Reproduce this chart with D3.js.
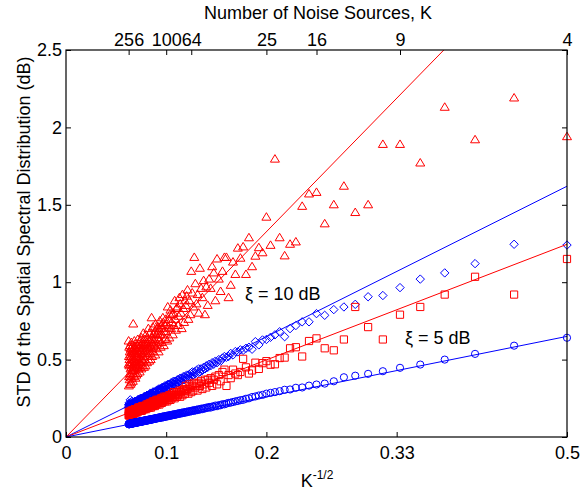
<!doctype html>
<html lang="en">
<head>
<meta charset="utf-8">
<title>STD of the Spatial Spectral Distribution vs K</title>
<script src="https://cdn.jsdelivr.net/npm/d3@7"></script>
<style>
  body { margin: 0; background: #fff; }
  text { font-family: Arial, "Liberation Sans", Helvetica, sans-serif; fill: #000; }
</style>
</head>
<body>
<script>
// number of noise sources, one point per K
const kValues = d3.range(4, 257);

// top axis labels (K) and bottom axis ticks (K^-1/2)
const topTickK = [256, 100, 64, 25, 16, 9, 4];
const bottomTicks = [0, 0.1, 0.2, 0.33, 0.5];
const yTicks = [0, 0.5, 1, 1.5, 2, 2.5];

// blue circles (xi = 5 dB)
const circles = [
  .641,.590,.537,.500,.468,.447,.425,.408,.396,.386,
  .360,.345,.339,.332,.320,.318,.307,.305,.296,.290,
  .285,.280,.272,.268,.262,.258,.250,.247,.240,.238,
  .233,.230,.226,.222,.220,.216,.211,
  .212,.205,.206,.199,.203,.196,.197,.190,.194,.188,
  .190,.184,.186,.180,.183,.177,.180,.174,.176,.171,
  .174,.168,.171,.166,.168,.163,.166,.161,.163,.158,
  .161,.156,.159,.154,.157,.152,.155,.150,.153,.148,
  .151,.146,.149,.144,.147,.142,.146,.141,.144,.139,
  .142,.138,.141,.136,.139,.135,.138,.133,.137,.132,
  .135,.131,.133,.130,.134,.128,.130,.131,.125,.129,
  .129,.125,.127,.124,.126,.123,.126,.122,.124,.121,
  .123,.120,.122,.119,.121,.118,.120,.117,.119,.116,
  .118,.115,.117,.114,.117,.113,.115,.112,.115,.112,
  .114,.111,.113,.110,.112,.109,.112,.108,.111,.108,
  .110,.107,.109,.106,.109,.106,.108,.105,.107,.105,
  .107,.104,.106,.103,.106,.102,.105,.102,.104,.101,
  .104,.101,.103,.100,.103,.099,.102,.099,.101,.099,
  .101,.098,.100,.097,.100,.097,.099,.096,.099,.096,
  .098,.095,.098,.095,.097,.094,.097,.094,.096,.094,
  .096,.093,.095,.092,.095,.092,.094,.091,.094,.091,
  .093,.091,.093,.090,.093,.090,.092,.089,.092,.089,
  .091,.089,.091,.088,.091,.088,.090,.087,.090,.087,
  .089,.087,.089,.086,.089,.086,.088,.085,.088,.085,
  .087,.085,.087,.084,.087,.084,.086,.083,.086,.083,
  .085,.083,.085,.082,.085,.083
];

// red squares
const squares = [
  1.15,.92,1.035,.92,.84,.79,.63,.71,.84,.63,
  .56,.573,.637,.62,.52,.58,.573,.513,.51,.47,
  .467,.49,.477,.44,.48,.43,.41,.45,.505,.42,
  .40,.41,.435,.38,.40,.33,.435,
  .42,.36,.40,.34,.39,.37,.33,.38,.35,.37,
  .32,.37,.34,.31,.36,.33,.35,.30,.34,.32,
  .35,.30,.33,.29,.32,.34,.28,.31,.30,.33,
  .28,.31,.30,.27,.30,.29,.26,.30,.28,.27,
  .29,.26,.28,.27,.25,.29,.26,.27,.28,.25,
  .27,.24,.26,.27,.24,.26,.25,.23,.26,.25,
  .26,.23,.25,.24,.26,.23,.24,.25,.22,.24,
  .25,.22,.24,.23,.21,.24,.23,.22,.24,.21,
  .23,.22,.24,.21,.22,.23,.20,.22,.23,.21,
  .22,.20,.23,.21,.22,.20,.22,.21,.19,.22,
  .21,.20,.22,.19,.21,.20,.21,.19,.21,.20,
  .21,.19,.20,.19,.21,.18,.20,.19,.20,.19,
  .20,.18,.20,.19,.18,.20,.19,.18,.20,.18,
  .19,.18,.20,.17,.19,.18,.19,.17,.19,.18,
  .19,.17,.19,.18,.17,.19,.18,.17,.19,.17,
  .18,.17,.19,.17,.18,.16,.18,.17,.18,.17,
  .18,.16,.18,.17,.18,.16,.17,.16,.18,.16,
  .17,.16,.18,.16,.17,.16,.17,.15,.17,.16,
  .17,.16,.17,.15,.17,.15,.17,.16,.16,.15,
  .17,.15,.16,.15,.17,.15,.16,.15,.16,.14,
  .16,.15,.16,.14,.16,.15,.16,.14,.16,.15,
  .16,.14,.16,.15,.17,.14
];

// blue diamonds (xi = 10 dB)
const diamonds = [
  1.24,1.245,1.12,1.06,1.02,.965,.914,.906,.857,.84,
  .823,.786,.797,.744,.744,.72,.70,.648,.68,.66,
  .644,.63,.627,.595,.616,.567,.58,.573,.56,.563,
  .55,.552,.53,.54,.52,.515,.52,
  .51,.49,.50,.48,.49,.47,.48,.46,.47,.45,
  .46,.44,.45,.43,.44,.42,.44,.41,.43,.41,
  .42,.40,.42,.39,.41,.39,.40,.38,.40,.38,
  .39,.37,.39,.37,.38,.36,.38,.36,.37,.35,
  .37,.35,.36,.34,.36,.34,.36,.34,.35,.33,
  .35,.33,.34,.32,.34,.32,.34,.32,.33,.31,
  .33,.31,.33,.30,.32,.31,.32,.30,.32,.30,
  .31,.30,.31,.29,.31,.29,.31,.29,.30,.28,
  .30,.28,.30,.28,.29,.27,.29,.28,.29,.27,
  .29,.27,.29,.27,.28,.27,.28,.26,.28,.26,
  .28,.26,.28,.26,.27,.26,.27,.25,.27,.25,
  .27,.25,.27,.25,.26,.25,.26,.24,.26,.25,
  .26,.24,.26,.24,.26,.24,.25,.24,.25,.24,
  .25,.24,.25,.23,.25,.23,.25,.23,.24,.23,
  .25,.23,.24,.23,.24,.23,.24,.22,.24,.22,
  .24,.22,.24,.22,.24,.22,.23,.22,.23,.22,
  .23,.22,.23,.21,.23,.21,.23,.21,.22,.21,
  .23,.21,.23,.21,.22,.21,.22,.21,.22,.20,
  .22,.21,.22,.20,.22,.20,.22,.20,.21,.20,
  .23,.20,.22,.20,.21,.20,.21,.20,.21,.19,
  .21,.20,.24,.19,.21,.19,.21,.19,.20,.19,
  .21,.22,.21,.19,.20,.19
];

// red triangles
const triangles = [
  1.94,2.19,1.92,2.13,1.77,1.89,1.89,1.50,1.45,1.62,
  1.50,1.377,1.58,1.57,1.49,1.26,1.245,1.17,1.287,1.795,
  1.238,1.42,1.19,1.223,1.168,1.10,1.287,1.05,1.228,1.155,
  1.22,1.05,1.13,.98,.90,1.16,1.16,
  1.07,.94,1.02,1.15,.88,1.06,1.10,.96,1.02,.85,
  .97,.79,1.01,.90,.96,1.09,.80,.92,.86,.99,
  1.16,.84,.93,1.07,.79,.88,.76,.95,.91,.85,
  .88,.74,.83,.92,.70,.80,.86,.90,.78,.72,
  .84,.83,.69,.76,.88,.72,.80,.66,.79,.74,
  .70,.82,.79,.64,.76,.71,.84,.62,.73,.68,
  .76,.63,.72,.68,.59,.74,.77,.66,.70,.61,
  .72,.58,.66,.75,.62,.69,.55,.71,.64,.67,
  .60,.70,.57,.66,.73,.53,.63,.68,.59,.62,
  .66,.55,.71,.60,.52,.64,.77,.58,.61,.50,
  .63,.54,.67,.57,.49,.62,.58,.70,.52,.60,
  .55,.64,.48,.59,.61,.52,.66,.56,.46,.60,
  .58,.50,.63,.54,.45,.60,.52,.67,.49,.57,
  .53,.61,.46,.57,.50,.64,.44,.55,.59,.48,
  .56,.47,.62,.51,.42,.58,.54,.45,.60,.50,
  .55,.44,.57,.49,.63,.41,.53,.59,.46,.51,
  .48,.56,.40,.60,.52,.45,.57,.38,.54,.49,
  .53,.43,.58,.47,.62,.39,.55,.50,.44,.57,
  .46,.73,.41,.54,.36,.59,.48,.51,.43,.56,
  .50,.38,.55,.45,.61,.35,.52,.47,.40,.57,
  .44,.53,.34,.59,.48,.41,.55,.37,.50,.46,
  .58,.39,.52,.33,.47,.62
];

// slopes of the fitted lines through the origin: triangles, diamonds, squares, circles
const fitSlopes = [6.63, 3.24, 2.49, 1.30];

const width = 580, height = 494;
const plot = { left: 66, right: 567, top: 50, bottom: 437 };
const RED = "#ff0000", BLUE = "#0000ff";
const FONT = 18;

const svg = d3.select("body").append("svg")
  .attr("width", width)
  .attr("height", height)
  .attr("xmlns", "http://www.w3.org/2000/svg");

const x = d3.scaleLinear().domain([0, 0.5]).range([plot.left, plot.right]);
const y = d3.scaleLinear().domain([0, 2.5]).range([plot.bottom, plot.top]);

svg.append("clipPath").attr("id", "plotclip")
  .append("rect")
  .attr("x", plot.left).attr("y", plot.top)
  .attr("width", plot.right - plot.left).attr("height", plot.bottom - plot.top);

// marker shapes
const shapes = {
  tri: "M0,-4.5L4.5,3L-4.5,3Z",
  dia: "M0,-4.2L4.2,0L0,4.2L-4.2,0Z",
  sq: "M-3.6,-3.6H3.6V3.6H-3.6Z",
  circ: d3.symbol(d3.symbolCircle, Math.PI * 3.6 * 3.6)()
};

const series = [
  { vals: triangles, color: RED, shape: "tri" },
  { vals: diamonds, color: BLUE, shape: "dia" },
  { vals: squares, color: RED, shape: "sq" },
  { vals: circles, color: BLUE, shape: "circ" }
];

series.forEach(s => {
  svg.append("g")
    .selectAll("path")
    .data(kValues.map((k, i) => ({ k: k, v: s.vals[i] })))
    .enter()
    .append("path")
    .attr("d", shapes[s.shape])
    .attr("transform", d => `translate(${x(1 / Math.sqrt(d.k))},${y(d.v)})`)
    .attr("fill", "none")
    .attr("stroke", s.color)
    .attr("stroke-width", 1);
});

// fitted lines
const lineColors = [RED, BLUE, RED, BLUE];
const line = d3.line().x(d => x(d[0])).y(d => y(d[1]));
svg.append("g").attr("clip-path", "url(#plotclip)")
  .selectAll("path")
  .data(fitSlopes)
  .enter()
  .append("path")
  .attr("d", s => line([[0, 0], [0.5, s * 0.5]]))
  .attr("fill", "none")
  .attr("stroke", (s, i) => lineColors[i])
  .attr("stroke-width", 1);

// axes
function styleAxis(g) {
  g.select(".domain").remove();
  g.selectAll(".tick line").attr("stroke", "#000");
  g.selectAll("text").attr("font-size", FONT).attr("font-family", null).attr("fill", "#000");
}

svg.append("g")
  .attr("transform", `translate(0,${plot.bottom})`)
  .call(d3.axisBottom(x).tickValues(bottomTicks).tickSize(-5).tickPadding(9)
    .tickFormat(d => d === 0.33 ? "0.33" : d3.format("")(d)))
  .call(styleAxis);

svg.append("g")
  .attr("transform", `translate(${plot.left},0)`)
  .call(d3.axisLeft(y).tickValues(yTicks).tickSize(-5).tickPadding(4).tickFormat(d3.format("")))
  .call(styleAxis);

svg.append("g")
  .attr("transform", `translate(${plot.right},0)`)
  .call(d3.axisRight(y).tickValues(yTicks).tickSize(-5).tickFormat(""))
  .call(styleAxis);

svg.append("g")
  .attr("transform", `translate(0,${plot.top})`)
  .call(d3.axisTop(x).tickValues(topTickK.map(k => 1 / Math.sqrt(k))).tickSize(-5).tickPadding(4)
    .tickFormat((d, i) => topTickK[i]))
  .call(styleAxis);

// box
svg.append("rect")
  .attr("x", plot.left).attr("y", plot.top)
  .attr("width", plot.right - plot.left).attr("height", plot.bottom - plot.top)
  .attr("fill", "none").attr("stroke", "#000").attr("stroke-width", 1.2);

// titles
svg.append("text")
  .attr("x", 318).attr("y", 19)
  .attr("text-anchor", "middle").attr("font-size", FONT)
  .text("Number of Noise Sources, K");

const xl = svg.append("text")
  .attr("x", 317).attr("y", 487)
  .attr("text-anchor", "middle").attr("font-size", FONT);
xl.append("tspan").text("K");
xl.append("tspan").attr("dy", -8).attr("font-size", 12).text("-1/2");

svg.append("text")
  .attr("transform", "translate(30,232) rotate(-90)")
  .attr("text-anchor", "middle").attr("font-size", FONT)
  .text("STD of the Spatial Spectral Distribution (dB)");

// annotations
svg.append("text").attr("x", 245).attr("y", 300).attr("font-size", FONT).text("ξ = 10 dB");
svg.append("text").attr("x", 405).attr("y", 344).attr("font-size", FONT).text("ξ = 5 dB");
</script>
</body>
</html>
